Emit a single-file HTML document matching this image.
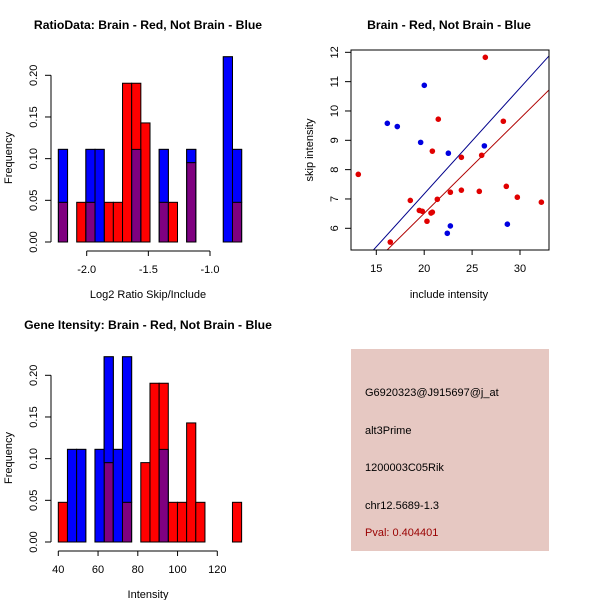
<!DOCTYPE html>
<html><head><meta charset="utf-8"><style>
body{margin:0;background:#fff}
svg{display:block;font-family:"Liberation Sans",sans-serif}
</style></head><body>
<svg id="c" width="600" height="600" xmlns="http://www.w3.org/2000/svg">
<rect width="600" height="600" fill="#fff"/>
<g id="p1"></g>
<g id="p2"></g>
<g id="p3"></g>
<g>
<rect x="351" y="349" width="198" height="202" fill="#e6c8c2"/>
<text x="365" y="396" font-size="11">G6920323@J915697@j_at</text>
<text x="365" y="434" font-size="11">alt3Prime</text>
<text x="365" y="471" font-size="11">1200003C05Rik</text>
<text x="365" y="509" font-size="11">chr12.5689-1.3</text>
<text x="365" y="536" font-size="11" fill="#990000">Pval: 0.404401</text>
</g>
</svg>
<script>
// Histogram 1 data (20 bins)
const ratioBinStart = -2.2297;
const ratioBinWidth = 0.07432;
const ratioRed = [1,0,1,1,0,1,1,4,4,3,0,1,1,0,2,0,0,0,0,1];
const ratioBlue = [1,0,0,1,1,0,0,0,1,0,0,1,0,0,1,0,0,0,2,1];
const ratioTicks = [-2.0,-1.5,-1.0];
const ratioTickLabels = ["-2.0","-1.5","-1.0"];
// Histogram 2 data
const intBinStart = 40;
const intBinWidth = 4.612;
const intRed = [1,0,0,0,0,2,0,1,0,2,4,4,1,1,3,1,0,0,0,1];
const intBlue = [0,1,1,0,1,2,1,2,0,0,0,1,0,0,0,0,0,0,0,0];
const intTicks = [40,60,80,100,120];
const intTickLabels = ["40","60","80","100","120"];
const freqTicks = [0,0.05,0.10,0.15,0.20];
const freqTickLabels = ["0.00","0.05","0.10","0.15","0.20"];
// Scatter data
const redX = [26.38,13.12,21.47,28.26,20.85,23.88,26.0,18.55,21.37,22.73,23.88,25.75,28.57,29.72,32.23,19.49,19.8,20.71,20.85,20.29,16.46];
const redY = [11.83,7.84,9.72,9.65,8.63,8.42,8.49,6.95,6.99,7.23,7.30,7.26,7.43,7.06,6.89,6.61,6.58,6.52,6.55,6.24,5.53];
const blueX = [20.01,16.15,17.19,19.63,22.52,26.28,22.73,22.41,28.68];
const blueY = [10.875,9.58,9.47,8.93,8.56,8.81,6.08,5.83,6.14];
const blueLine = [0.361,-0.045];
const redLine = [0.323,0.05];
const scXTicks = [15,20,25,30];
const scYTicks = [6,7,8,9,10,11,12];

const NS="http://www.w3.org/2000/svg";
function mk(parent,tag,attrs,txt){const e=document.createElementNS(NS,tag);for(const k in attrs)e.setAttribute(k,attrs[k]);if(txt!==undefined)e.textContent=txt;parent.appendChild(e);return e;}

function hist(g,opts){
  const nR=opts.red.reduce((a,b)=>a+b,0), nB=opts.blue.reduce((a,b)=>a+b,0);
  const x=v=>opts.x0px+(v-opts.t0)*opts.pxPer;
  const y=v=>opts.base-v*833.5;
  const t=mk(g,'text',{x:148,y:opts.titleY,'font-size':12.2,'font-weight':'bold','text-anchor':'middle'},opts.title);
  
  
  for(const [arr,n,fill,nm] of [[opts.red,nR,'#ff0000','red-bar'],[opts.blue,nB,'rgba(0,0,255,0.5)','blue-bar']]){
    arr.forEach((c,i)=>{ if(!c)return;
      const l=x(opts.bs+i*opts.bw), r=x(opts.bs+(i+1)*opts.bw), top=y(c/n);
      const b=mk(g,'rect',{x:l,y:top,width:r-l,height:opts.base-top,fill:fill,stroke:'#000','stroke-width':1});
      
      
    });
  }
  opts.blue.forEach((c,i)=>{ if(!c)return; const fr=opts.red[i]/nR, fb=c/nB; if(fb<=fr)return;
    const l=x(opts.bs+i*opts.bw), r=x(opts.bs+(i+1)*opts.bw);
    const b=mk(g,'rect',{x:l,y:y(fb),width:r-l,height:y(fr)-y(fb),fill:'#0000ff',stroke:'#000','stroke-width':1});
    
    
  });
  const ya=mk(g,'g',{});
  
  
  mk(ya,'line',{x1:51,x2:51,y1:y(0),y2:y(0.2),stroke:'#000'});
  freqTicks.forEach((v,i)=>{ mk(ya,'line',{x1:45,x2:51,y1:y(v),y2:y(v),stroke:'#000'});
    const tl=mk(ya,'text',{x:37,y:y(v),'font-size':11,'text-anchor':'middle',transform:`rotate(-90 37 ${y(v)})`},freqTickLabels[i]);
    
    
  });
  const yl=mk(g,'text',{x:12,y:158+opts.off,'font-size':11,'text-anchor':'middle',transform:`rotate(-90 12 ${158+opts.off})`},'Frequency');
  
  
  const xa=mk(g,'g',{});
  
  
  const ay=opts.base+9;
  mk(xa,'line',{x1:x(opts.ticks[0]),x2:x(opts.ticks[opts.ticks.length-1]),y1:ay,y2:ay,stroke:'#000'});
  opts.ticks.forEach((v,i)=>{ mk(xa,'line',{x1:x(v),x2:x(v),y1:ay,y2:ay+5,stroke:'#000'});
    const tl=mk(xa,'text',{x:x(v),y:ay+22,'font-size':11,'text-anchor':'middle'},opts.labels[i]);
    
    
  });
  const xl=mk(g,'text',{x:148,y:opts.base+56,'font-size':11,'text-anchor':'middle'},opts.xlab);
  
  
}
hist(document.getElementById('p1'),{red:ratioRed,blue:ratioBlue,bs:ratioBinStart,bw:ratioBinWidth,t0:-2.0,x0px:86.7,pxPer:123.3,base:242,ticks:ratioTicks,labels:ratioTickLabels,title:'RatioData: Brain - Red, Not Brain - Blue',titleY:29,xlab:'Log2 Ratio Skip/Include',off:0});
hist(document.getElementById('p3'),{red:intRed,blue:intBlue,bs:intBinStart,bw:intBinWidth,t0:40,x0px:58.3,pxPer:1.9875,base:542,ticks:intTicks,labels:intTickLabels,title:'Gene Itensity: Brain - Red, Not Brain - Blue',titleY:329,xlab:'Intensity',off:300});

(function(){
  const g=document.getElementById('p2');
  const X=v=>376.3+(v-15)*9.58, Y=v=>228.3-(v-6)*29.33;
  const t=mk(g,'text',{x:449,y:29,'font-size':12.2,'font-weight':'bold','text-anchor':'middle'},'Brain - Red, Not Brain - Blue');
  
  
  mk(g,'defs',{}).innerHTML='<clipPath id="cp"><rect x="351" y="50" width="198" height="200"/></clipPath>';
  const xmin=(351-376.3)/9.58+15, xmax=(549-376.3)/9.58+15;
  for(const [ln,col,nm] of [[blueLine,'#00008b','blue-fit-line'],[redLine,'#b00000','red-fit-line']]){
    const l=mk(g,'line',{x1:X(xmin),y1:Y(ln[0]*xmin+ln[1]),x2:X(xmax),y2:Y(ln[0]*xmax+ln[1]),stroke:col,'stroke-width':1,'clip-path':'url(#cp)'});
    
    
  }
  redX.forEach((v,i)=>{const c=mk(g,'circle',{cx:X(v),cy:Y(redY[i]),r:2.8,fill:'#e00000'});
    
    });
  blueX.forEach((v,i)=>{const c=mk(g,'circle',{cx:X(v),cy:Y(blueY[i]),r:2.8,fill:'#0000e0'});
    
    });
  const box=mk(g,'rect',{x:351,y:50,width:198,height:200,fill:'none',stroke:'#000'});
  
  
  scXTicks.forEach(v=>{mk(g,'line',{x1:X(v),x2:X(v),y1:250,y2:255,stroke:'#000'});
    const tl=mk(g,'text',{x:X(v),y:272,'font-size':11,'text-anchor':'middle'},String(v));
    
    });
  scYTicks.forEach(v=>{mk(g,'line',{x1:345,x2:351,y1:Y(v),y2:Y(v),stroke:'#000'});
    const tl=mk(g,'text',{x:338,y:Y(v),'font-size':11,'text-anchor':'middle',transform:`rotate(-90 338 ${Y(v)})`},String(v));
    
    });
  const xl=mk(g,'text',{x:449,y:298,'font-size':11,'text-anchor':'middle'},'include intensity');
  
  
  const yl=mk(g,'text',{x:313,y:150,'font-size':11,'text-anchor':'middle',transform:'rotate(-90 313 150)'},'skip intensity');
  
  
})();
</script>
</body></html>
